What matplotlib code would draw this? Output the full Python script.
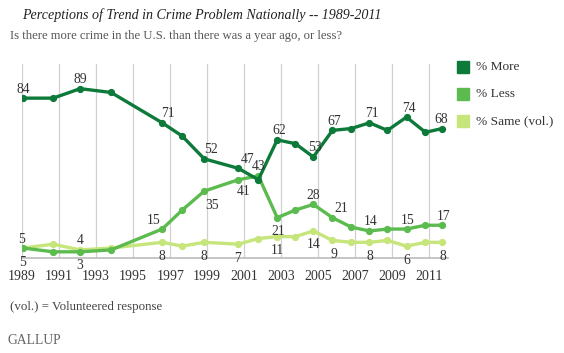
import matplotlib
matplotlib.use("Agg")
import matplotlib.pyplot as plt
from matplotlib.patches import Rectangle

# Data
dates = [1989.05, 1990.68, 1992.14, 1993.81, 1996.57, 1997.65, 1998.84, 2000.68,
         2001.76, 2002.78, 2003.76, 2004.73, 2005.76, 2006.78, 2007.76, 2008.73,
         2009.76, 2010.78, 2011.70]
more = [84, 84, 89, 87, 71, 64, 52, 47, 41, 62, 60, 53, 67, 68, 71, 67, 74, 66, 68]
less = [5, 3, 3, 4, 15, 25, 35, 41, 43, 21, 25, 28, 21, 16, 14, 15, 15, 17, 17]
same = [5, 7, 4, 5, 8, 6, 8, 7, 10, 11, 11, 14, 9, 8, 8, 9, 6, 8, 8]
year_ticks = list(range(1989, 2012, 2))
series_names = ["% More", "% Less", "% Same (vol.)"]

# labelled points: (index, dx px, dy px)
more_labels = [(0, 0, 9), (2, 0, 9), (4, 6, 9), (6, 7, 9), (7, 9, 9), (9, 2, 9),
               (11, 2, 9), (12, 2, 9), (14, 2, 9), (16, 2, 9), (18, -1, 9)]
less_labels = [(0, 0, -14), (2, 0, -14), (4, -9, 9), (6, 8, -14), (7, 5, -12),
               (8, 0, 9), (9, 1, -14), (11, 0, 9), (12, 9, 9), (14, 1, 9),
               (16, 1, 9), (18, 1, 9)]
same_labels = [(0, -1, 9), (2, 0, 9), (4, 0, -14), (6, 0, -14), (7, -1, -14),
               (9, 0, -14), (11, 0, -14), (12, 2, -14), (14, 0, -14),
               (16, 0, -14), (18, 0, -14)]

c_more = "#0e7a3a"
c_less = "#5cbb4e"
c_same = "#c6e57a"
txt = "#333333"
serif = ["Liberation Serif", "DejaVu Serif"]

W, H = 564, 353
fig = plt.figure(figsize=(W / 100, H / 100), dpi=100)
ax = fig.add_axes([22 / W, 1 - 257.5 / H, (448 - 22) / W, (257.5 - 64) / H])
ax.set_xlim(1989, 2012)
ax.set_ylim(0, 102)

for yr in year_ticks:
    ax.axvline(yr, color="#d0d0d0", lw=0.9, zorder=0)
ax.axhline(0, color="#bbbbbb", lw=1.2, zorder=1, clip_on=False)

for vals, col, z in [(same, c_same, 2), (less, c_less, 3), (more, c_more, 4)]:
    ax.plot(dates, vals, color=col, lw=2.4, marker="o", ms=4.2, zorder=z)

for vals, labs in [(more, more_labels), (less, less_labels), (same, same_labels)]:
    for i, dx, dy in labs:
        ax.annotate(str(vals[i]), (dates[i], vals[i]), xytext=(dx * 0.72, dy * 0.72),
                    textcoords="offset points", ha="center", va="center",
                    fontsize=9.8, color=txt, family=serif, zorder=6)

for s in ax.spines.values():
    s.set_visible(False)
ax.set_yticks([])
ax.set_xticks(year_ticks)
ax.set_xticklabels([str(y) for y in year_ticks], family=serif, fontsize=10, color=txt)
ax.tick_params(axis="x", length=0, pad=9)

# legend
for k, (name, col) in enumerate(zip(series_names, [c_more, c_less, c_same])):
    yc = 67 + 27 * k
    fig.patches.append(Rectangle((457 / W, 1 - (yc + 6) / H), 12 / W, 12 / H,
                                 transform=fig.transFigure, color=col))
    fig.text(476 / W, 1 - yc / H, name, ha="left", va="center", fontsize=9.6,
             color=txt, family=serif)

fig.text(22 / W, 1 - 15 / H, "Perceptions of Trend in Crime Problem Nationally -- 1989-2011",
         ha="left", va="center", fontsize=10.1, style="italic", color="#222222", family=serif)
fig.text(10 / W, 1 - 36 / H, "Is there more crime in the U.S. than there was a year ago, or less?",
         ha="left", va="center", fontsize=9.1, color="#555555", family=serif)
fig.text(10 / W, 1 - 307 / H, "(vol.) = Volunteered response",
         ha="left", va="center", fontsize=9.3, color="#444444", family=serif)
fig.text(7 / W, 1 - 341 / H, "GALLUP", ha="left", va="center", fontsize=9.8,
         color="#666666", family=serif)

fig.savefig("out.png", dpi=100)
